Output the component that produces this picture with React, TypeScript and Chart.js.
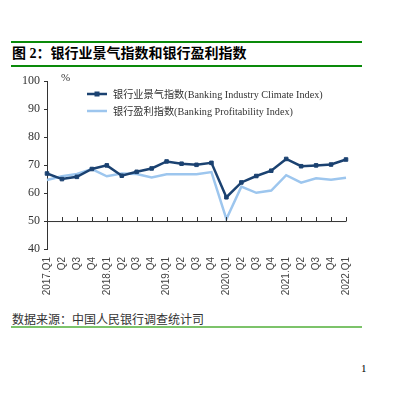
import React, { useEffect, useRef } from "react";
import { Chart, registerables } from "chart.js";

Chart.register(...registerables);

const categories = [
  "2017.Q1", "Q2", "Q3", "Q4",
  "2018.Q1", "Q2", "Q3", "Q4",
  "2019.Q1", "Q2", "Q3", "Q4",
  "2020.Q1", "Q2", "Q3", "Q4",
  "2021.Q1", "Q2", "Q3", "Q4",
  "2022.Q1",
];

const climateIndex = [
  67.0, 65.0, 65.8, 68.6,
  69.9, 66.2, 67.6, 68.8,
  71.3, 70.5, 70.1, 70.8,
  58.5, 63.8, 66.1, 68.0,
  72.2, 69.6, 69.9, 70.2,
  72.0,
];

const profitIndex = [
  64.7, 66.0, 66.8, 68.6,
  66.0, 67.0, 66.8, 65.6,
  66.7, 66.7, 66.7, 67.5,
  50.7, 62.3, 60.1, 60.9,
  66.4, 63.7, 65.3, 64.8,
  65.5,
];

const yTicks = [40, 50, 60, 70, 80, 90, 100];

const seriesNames = [
  "银行业景气指数(Banking Industry Climate Index)",
  "银行盈利指数(Banking Profitability Index)",
];

const DARK = "#1B4271";
const LIGHT = "#9DC6EE";
const AXIS = "#333333";
const CANVAS_TOP = 70;
const CANVAS_W = 415;
const CANVAS_H = 235;

const overlayPlugin = {
  id: "overlay",
  afterDraw(chart: any) {
    const ctx = chart.ctx;
    const x = chart.scales.x;
    const y = chart.scales.y;
    ctx.save();
    const y50 = y.getPixelForValue(50);
    const x0 = x.getPixelForValue(0);
    const xN = x.getPixelForValue(categories.length - 1);
    ctx.strokeStyle = AXIS;
    ctx.lineWidth = 1;
    ctx.beginPath();
    ctx.moveTo(x0, y50 + 0.5);
    ctx.lineTo(xN + 0.5, y50 + 0.5);
    for (let i = 0; i < categories.length; i++) {
      const px = Math.round(x.getPixelForValue(i)) + 0.5;
      ctx.moveTo(px, y50);
      ctx.lineTo(px, y50 - 4);
    }
    ctx.stroke();

    ctx.fillStyle = AXIS;
    ctx.font = "11px 'Liberation Serif', 'Times New Roman', serif";
    ctx.textBaseline = "middle";
    ctx.textAlign = "left";
    ctx.fillText("%", 61, y.getPixelForValue(100) - 3);

    const legendX = 87;
    const legendRows = [94 - CANVAS_TOP, 111 - CANVAS_TOP];
    const colors = [DARK, LIGHT];
    ctx.font = "10.2px 'Liberation Serif', 'Noto Sans CJK SC', serif";
    for (let i = 0; i < 2; i++) {
      const ly = legendRows[i];
      ctx.strokeStyle = colors[i];
      ctx.lineWidth = 2.5;
      ctx.beginPath();
      ctx.moveTo(legendX, ly);
      ctx.lineTo(legendX + 20, ly);
      ctx.stroke();
      if (i === 0) {
        ctx.fillStyle = DARK;
        ctx.fillRect(legendX + 10 - 2.5, ly - 2.5, 5, 5);
      }
      ctx.fillStyle = AXIS;
      ctx.fillText(seriesNames[i], 113, ly + 1);
    }
    ctx.restore();
  },
};

function ChartBox() {
  const ref = useRef<HTMLCanvasElement | null>(null);
  useEffect(() => {
    if (!ref.current) return;
    const chart = new Chart(ref.current, {
      type: "line",
      data: {
        labels: categories,
        datasets: [
          {
            label: seriesNames[0],
            data: climateIndex,
            borderColor: DARK,
            backgroundColor: DARK,
            borderWidth: 2.5,
            pointStyle: "rect",
            pointRadius: 2.5,
            pointBackgroundColor: DARK,
            pointBorderColor: DARK,
            pointBorderWidth: 1,
            tension: 0,
            order: 0,
          },
          {
            label: seriesNames[1],
            data: profitIndex,
            borderColor: LIGHT,
            backgroundColor: LIGHT,
            borderWidth: 2.5,
            pointRadius: 0,
            tension: 0,
            order: 1,
          },
        ],
      },
      options: {
        responsive: false,
        animation: false,
        devicePixelRatio: 1,
        layout: { padding: { left: 0, right: 69, top: 10, bottom: 0 } },
        plugins: { legend: { display: false }, tooltip: { enabled: false } },
        scales: {
          x: {
            type: "category",
            offset: false,
            grid: { display: false, drawTicks: false },
            border: { display: false },
            ticks: {
              autoSkip: false,
              maxRotation: 90,
              minRotation: 90,
              padding: 8,
              color: "#444444",
              font: { family: "'Liberation Sans', Arial, sans-serif", size: 10 },
            },
            afterFit(scale: any) {
              scale.height = CANVAS_H - 10 - (249 - 80);
            },
          },
          y: {
            min: 40,
            max: 100,
            afterBuildTicks(scale: any) {
              scale.ticks = yTicks.map((v) => ({ value: v }));
            },
            grid: {
              drawOnChartArea: false,
              drawTicks: true,
              tickLength: 3,
              color: AXIS,
            },
            border: { display: true, color: AXIS, width: 1 },
            ticks: {
              padding: 4,
              color: AXIS,
              font: { family: "'Liberation Serif', 'Times New Roman', serif", size: 12 },
            },
            afterFit(scale: any) {
              scale.width = 47;
            },
          },
        },
      },
      plugins: [overlayPlugin],
    } as any);
    return () => chart.destroy();
  }, []);
  return (
    <canvas
      ref={ref}
      width={CANVAS_W}
      height={CANVAS_H}
      style={{ position: "absolute", left: 0, top: CANVAS_TOP, width: CANVAS_W, height: CANVAS_H }}
    />
  );
}

export default function App() {
  return (
    <div
      style={{
        position: "fixed",
        left: 0,
        top: 0,
        width: 415,
        height: 399,
        background: "#fff",
        overflow: "hidden",
      }}
    >
      <div style={{ position: "absolute", left: 11, top: 41, width: 351, height: 2, background: "#0A8A0A" }} />
      <div
        style={{
          position: "absolute",
          left: 12,
          top: 44,
          fontFamily: "'Liberation Serif', 'Noto Sans CJK SC', serif",
          fontWeight: "bold",
          fontSize: 14,
          lineHeight: "20px",
          color: "#000",
          whiteSpace: "nowrap",
        }}
      >
        图 2：银行业景气指数和银行盈利指数
      </div>
      <div style={{ position: "absolute", left: 11, top: 65, width: 351, height: 2, background: "#0A8A0A" }} />
      <ChartBox />
      <div
        style={{
          position: "absolute",
          left: 12,
          top: 311,
          fontFamily: "'Noto Sans CJK SC', serif",
          fontSize: 12,
          lineHeight: "16px",
          color: "#333",
          whiteSpace: "nowrap",
        }}
      >
        数据来源：中国人民银行调查统计司
      </div>
      <div style={{ position: "absolute", left: 11, top: 326, width: 351, height: 2, background: "#7CC36A" }} />
      <div
        style={{
          position: "absolute",
          left: 361,
          top: 361,
          fontFamily: "'Liberation Serif', serif",
          fontSize: 11,
          lineHeight: "14px",
          color: "#000",
        }}
      >
        1
      </div>
    </div>
  );
}
